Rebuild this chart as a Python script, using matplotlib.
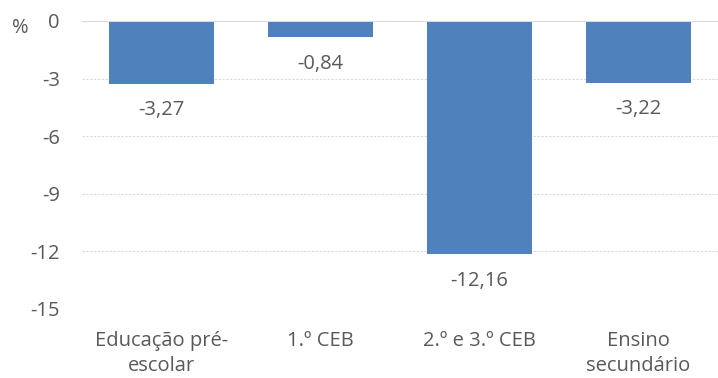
import matplotlib
matplotlib.use("Agg")
import matplotlib.pyplot as plt

categories = ["Educação pré-\nescolar", "1.º CEB", "2.º e 3.º CEB", "Ensino\nsecundário"]
values = [-3.27, -0.84, -12.16, -3.22]
yticks = [0, -3, -6, -9, -12, -15]

plt.rcParams['font.family'] = ['Open Sans', 'DejaVu Sans']
txt = '#595959'
fs = 14.5

fig = plt.figure(figsize=(7.18, 3.78), dpi=100)
ax = fig.add_axes([82/718, 1-309/378, 1-82/718, (309-21)/378])

x = list(range(len(categories)))
ax.bar(x, values, width=0.665, color='#4F81BD', zorder=3)
for xi, v in zip(x, values):
    ax.annotate(f"{v:.2f}".replace('.', ','), (xi, v), xytext=(0, -12),
                textcoords='offset points', ha='center', va='top',
                fontsize=fs, color=txt)

ax.set_xlim(-0.5, 3.5)
ax.set_ylim(-15, 0)
ax.set_yticks(yticks)
ax.set_yticklabels([str(t) for t in yticks])
ax.set_xticks(x)
ax.set_xticklabels(categories, linespacing=1.3)
ax.tick_params(axis='both', length=0, labelsize=fs, colors=txt)
ax.tick_params(axis='y', pad=16)
ax.tick_params(axis='x', pad=16)
for s in ax.spines.values():
    s.set_visible(False)
for t in yticks[1:]:
    ax.axhline(t, color='#D9D9D9', lw=0.8, ls=(0, (2, 1.5)), zorder=1)
ax.axhline(0, color='#D9D9D9', lw=1.5, zorder=4)
fig.text(20/718, 1-28/378, '%', ha='center', va='center', fontsize=fs, color=txt)

fig.savefig('out.png', dpi=100)
